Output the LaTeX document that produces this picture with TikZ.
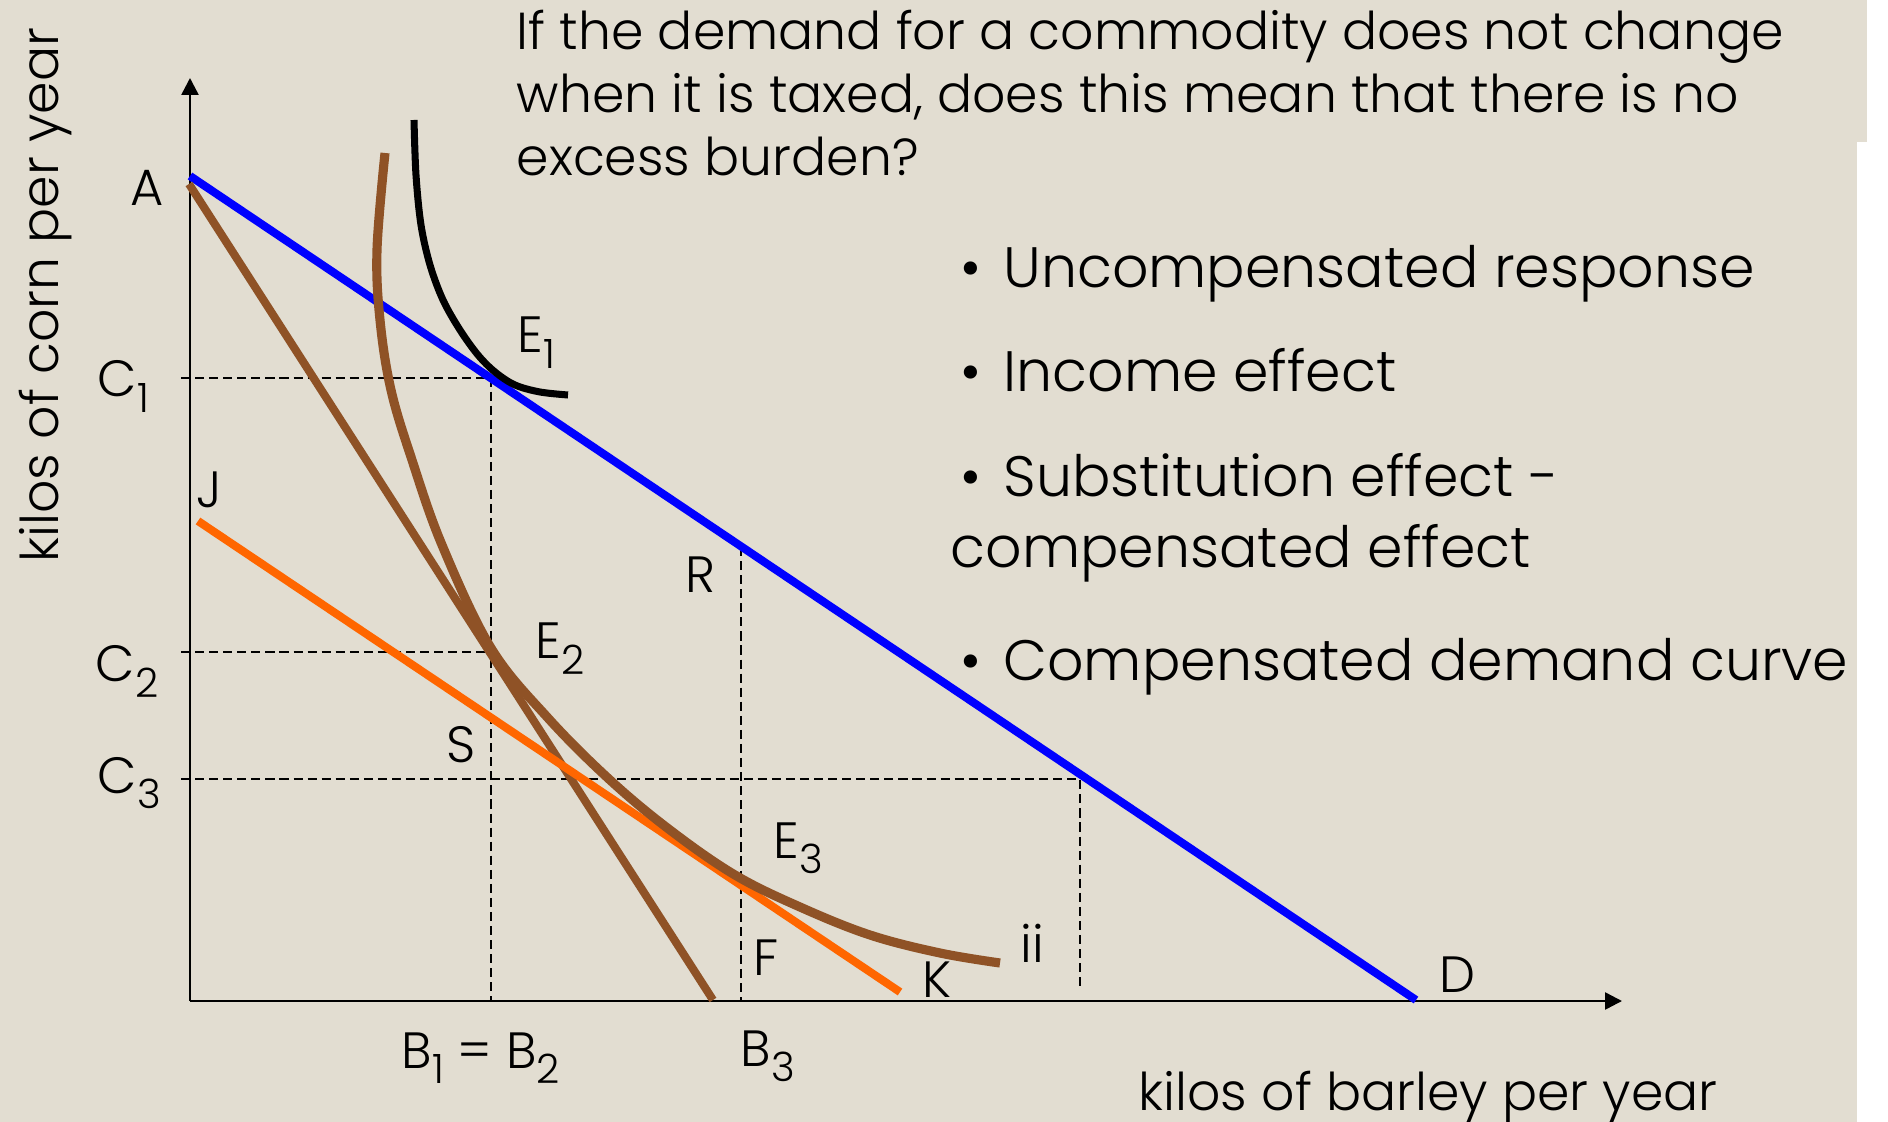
\documentclass[tikz,border=0pt]{standalone}
\usepackage{fontspec}
\setmainfont{Poppins Light}
\usepackage{tikz}
\usetikzlibrary{arrows.meta,calc}
\definecolor{slideBeige}{HTML}{E2DDD1}
\definecolor{budgetBlue}{HTML}{0000FF}
\definecolor{taxOrange}{HTML}{FF6600}
\definecolor{curveBrown}{HTML}{8F5226}
\newcommand{\lsub}[1]{\raisebox{-0.3em}{\fontsize{11.5pt}{11.5pt}\selectfont #1}}

\begin{document}
\begin{tikzpicture}[x=0.01cm, y=-0.01cm,
    lbl/.style={anchor=base west, inner sep=0pt, font=\fontsize{14.5}{14.5}\selectfont},
    txt/.style={anchor=base west, inner sep=0pt, font=\fontsize{14.8}{14.8}\selectfont},
    bull/.style={anchor=base west, inner sep=0pt, font=\fontsize{16.2}{16.2}\selectfont},
    axis/.style={line width=0.7pt, -{Triangle[length=4.8pt, width=4.8pt]}},
    guide/.style={line width=0.6pt, dash pattern=on 2.6pt off 1.4pt},
    budget/.style={line width=2.3pt, line cap=butt}]

    % slide background
    \useasboundingbox (0,0) rectangle (1888,1122);
    \fill[white] (0,0) rectangle (1888,1122);
    \fill[slideBeige] (0,0) rectangle (1857,1122);
    \fill[slideBeige] (1857,0) rectangle (1867,142);

    \coordinate (O) at (190,1001);
    \coordinate (ytip) at (190,78);
    \coordinate (xtip) at (1622,1001);
    \coordinate (yl) at (181,0);
    \coordinate (A) at (190,176);
    \coordinate (A2) at (189,184);
    \coordinate (D) at (1416,1000);
    \coordinate (B3) at (713,1000);
    \coordinate (J) at (198,521);
    \coordinate (K) at (900,992);
    \coordinate (E1) at (491,378);
    \coordinate (E2) at (491,652);
    \coordinate (R) at (741,547);
    \coordinate (G) at (1080,779);

    % guide lines
    \draw[guide] (E1 -| yl) -- (E1) -- (E1 |- O);
    \draw[guide] (E2 -| yl) -- (E2);
    \draw[guide] (G -| yl) -- (G) -- ($(G |- O)+(0,-10)$);
    \draw[guide] (R) -- (R |- O);

    % axes
    \draw[axis] (O) -- (ytip);
    \draw[axis] (O) -- (xtip);

    % budget lines and indifference curves
    \draw[budget, budgetBlue] (A) -- (D);
    \draw[budget, curveBrown] (A2) -- (B3);
    \draw[budget, taxOrange] (J) -- (K);
    \draw[black, line width=2pt] plot[smooth, tension=0.55] coordinates {(414,120) (416,175) (421,225) (430,265) (443,300) (460,330) (478,355) (495,372) (515,385) (540,392) (568,395)};
    \draw[curveBrown, line width=2.6pt] plot[smooth, tension=0.6] coordinates {(385,153) (377,250) (380,320) (391,390) (412,460) (442,545) (491,648) (548,718) (610,780) (670,830) (735,875) (800,907) (870,935) (940,953) (1000,963)};

    % point labels
    \node[lbl] (labA) at (130,206) {A};
    \node[lbl] (labC1) at (97,397) {C\lsub{1}};
    \node[lbl] (labC2) at (95,682) {C\lsub{2}};
    \node[lbl] (labC3) at (97,793) {C\lsub{3}};
    \node[lbl] (labJ) at (196,508) {J};
    \node[lbl] (labE1) at (517,353) {E\lsub{1}};
    \node[lbl] (labE2) at (535,659) {E\lsub{2}};
    \node[lbl] (labS) at (446,762) {S};
    \node[lbl] (labR) at (685,593) {R};
    \node[lbl] (labE3) at (773,858) {E\lsub{3}};
    \node[lbl] (labF) at (753,975) {F};
    \node[lbl] (labK) at (922,997) {K};
    \node[lbl] (labii) at (1020,962) {ii};
    \node[lbl] (labD) at (1439,992) {D};
    \node[lbl] (labB12) at (401,1068) {B\lsub{1} = B\lsub{2}};
    \node[lbl] (labB3) at (740,1066) {B\lsub{3}};

    % axis titles
    \node[txt, rotate=90] (ytitle) at (58,563) {kilos of corn per year};
    \node[txt] (xtitle) at (1138,1110) {kilos of barley per year};

    % question
    \node[txt] (q1) at (516,50) {If the demand for a commodity does not change};
    \node[txt] (q2) at (516,113) {when it is taxed, does this mean that there is no};
    \node[txt] (q3) at (516,176) {excess burden?};

    % points of the answer
    \node[bull] (b1) at (950,288) {\hspace*{2.8pt}\makebox[12.2pt][l]{•}Uncompensated response};
    \node[bull] (b2) at (950,392) {\hspace*{2.8pt}\makebox[12.2pt][l]{•}Income effect};
    \node[bull] (b3) at (950,497) {\hspace*{2.8pt}\makebox[12.2pt][l]{•}Substitution effect -};
    \node[bull] (b3b) at (950,568) {compensated effect};
    \node[bull] (b4) at (950,680) {\hspace*{2.8pt}\makebox[12.2pt][l]{•}Compensated demand curve};
\end{tikzpicture}
\end{document}
